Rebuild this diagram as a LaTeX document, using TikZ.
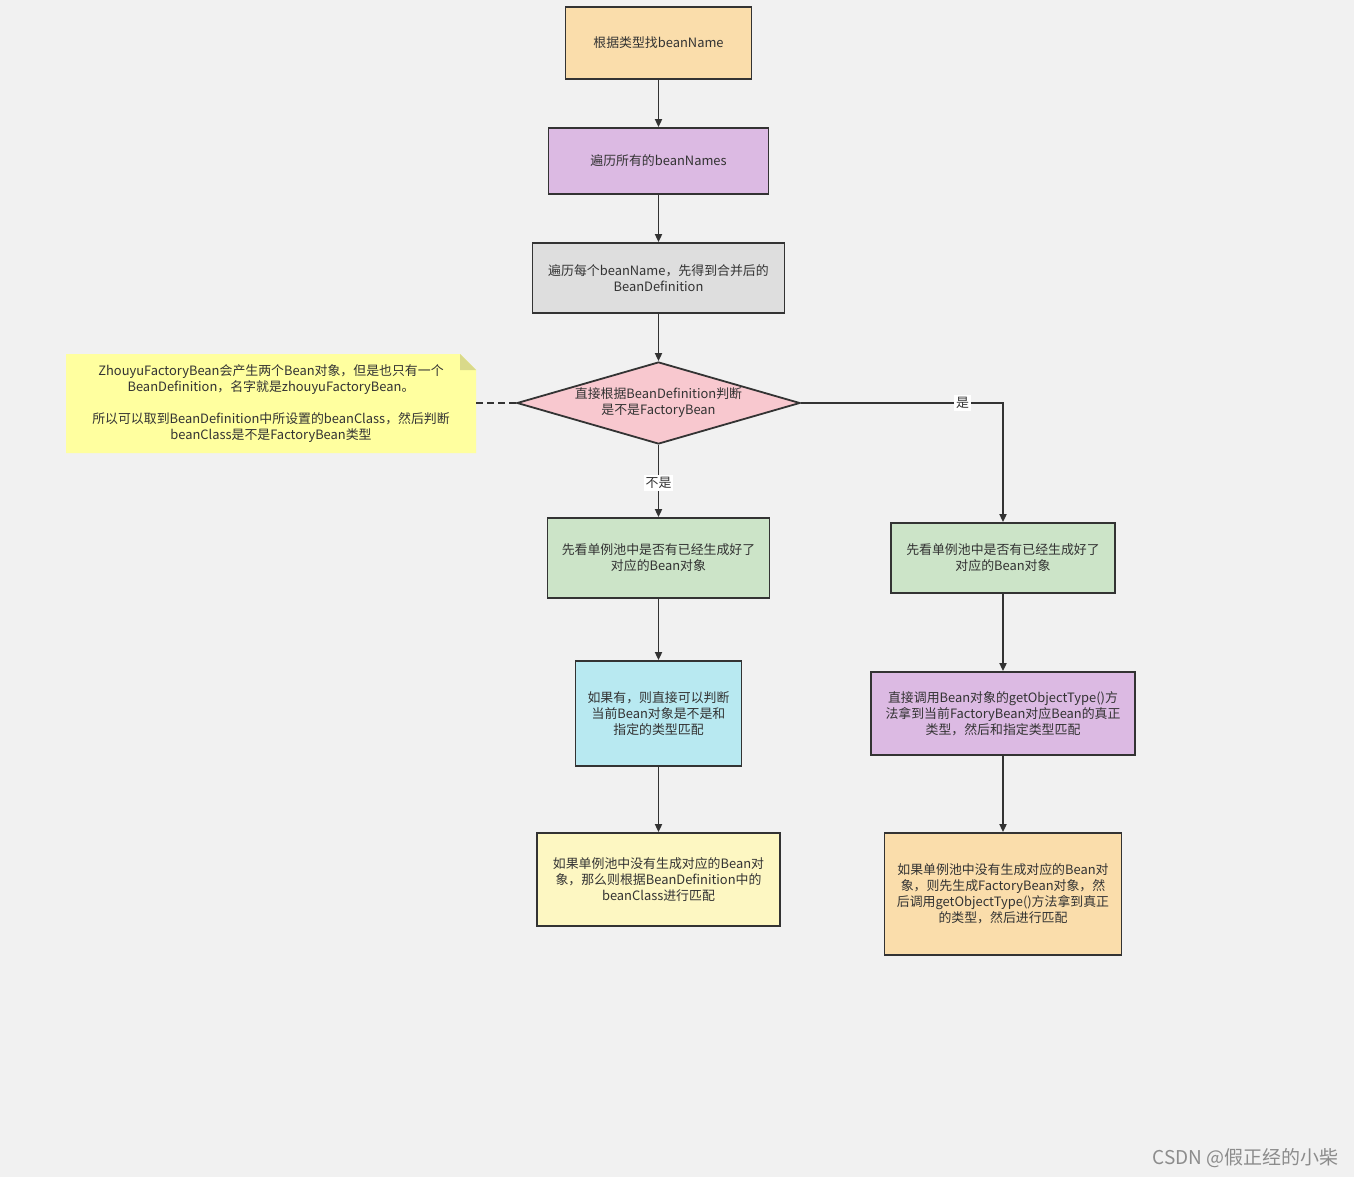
\documentclass[tikz,border=0pt]{standalone}
\usepackage{fontspec}
\setmainfont{Noto Sans CJK SC}
\newfontfamily\cjk{Noto Sans CJK SC}
\usetikzlibrary{shapes.geometric,arrows.meta}
\definecolor{bg}{HTML}{F1F1F1}
\definecolor{ln}{HTML}{333333}
\definecolor{corange}{HTML}{FADDAB}
\definecolor{cpurple}{HTML}{DCBAE3}
\definecolor{cgray}{HTML}{DEDEDE}
\definecolor{cpink}{HTML}{F8C8CF}
\definecolor{cgreen}{HTML}{CCE4C8}
\definecolor{ccyan}{HTML}{B8E9F1}
\definecolor{cyellow}{HTML}{FDF7C2}
\definecolor{cnote}{HTML}{FFFF9F}
\definecolor{cfold}{HTML}{D9D98A}
\begin{document}
\begin{tikzpicture}[x=1pt,y=-1pt,
  txt/.style={font=\cjk\fontsize{12.9}{16}\selectfont, text=ln, align=center, inner sep=0pt},
  box/.style={txt, draw=ln, line width=1.8pt, rectangle},
  arr/.style={draw=ln, line width=1.8pt, -{Triangle[length=8pt,width=7pt]}},
  lbl/.style={txt, fill=white, inner sep=2pt}]
\useasboundingbox[fill=bg] (0,0) rectangle (1354,1177);
% nodes
\node[box, fill=corange, minimum width=186pt, minimum height=72pt] (n1) at (658.5,43) {根据类型找beanName};
\node[box, fill=cpurple, minimum width=220pt, minimum height=66pt] (n2) at (658.5,161) {遍历所有的beanNames};
\node[box, fill=cgray, minimum width=252pt, minimum height=70pt] (n3) at (658.5,278) {遍历每个beanName，先得到合并后的\\BeanDefinition};
\node[txt, draw=ln, line width=1.8pt, diamond, aspect=3.45, fill=cpink, minimum width=283pt, minimum height=82pt] (d) at (658.5,403) {直接根据BeanDefinition判断\\是不是FactoryBean};
\node[box, fill=cgreen, minimum width=222pt, minimum height=80pt] (lg) at (658.5,558) {先看单例池中是否有已经生成好了\\对应的Bean对象};
\node[box, fill=cgreen, minimum width=224pt, minimum height=70pt] (rg) at (1003,558) {先看单例池中是否有已经生成好了\\对应的Bean对象};
\node[box, fill=ccyan, minimum width=166pt, minimum height=105pt] (cy) at (658.5,713.5) {如果有，则直接可以判断\\当前Bean对象是不是和\\指定的类型匹配};
\node[box, fill=cpurple, minimum width=264pt, minimum height=83pt] (rp) at (1003,713.5) {直接调用Bean对象的getObjectType()方\\法拿到当前FactoryBean对应Bean的真正\\类型，然后和指定类型匹配};
\node[box, fill=cyellow, minimum width=243pt, minimum height=93pt] (ly) at (658.5,879.5) {如果单例池中没有生成对应的Bean对\\象，那么则根据BeanDefinition中的\\beanClass进行匹配};
\node[box, fill=corange, minimum width=237pt, minimum height=122pt] (ro) at (1003,894) {如果单例池中没有生成对应的Bean对\\象，则先生成FactoryBean对象，然\\后调用getObjectType()方法拿到真正\\的类型，然后进行匹配};
% note
\fill[cnote] (66,354) -- (460,354) -- (476,370) -- (476,453) -- (66,453) -- cycle;
\fill[cfold] (460,354) -- (476,370) -- (460,370) -- cycle;
\node[txt, text width=400pt] (note) at (271,404) {ZhouyuFactoryBean会产生两个Bean对象，但是也只有一个\\BeanDefinition，名字就是zhouyuFactoryBean。\\[16pt]所以可以取到BeanDefinition中所设置的beanClass，然后判断\\beanClass是不是FactoryBean类型};
\coordinate (noteR) at (476,403);
% connectors
\draw[arr] (n1) -- (n2);
\draw[arr] (n2) -- (n3);
\draw[arr] (n3) -- (d);
\draw[arr] (d) -- node[lbl, pos=0.53] (l1) {不是} (lg);
\draw[arr] (d.east) -| node[lbl, pos=0.4] (l2) {是} (rg.north);
\draw[arr] (lg) -- (cy);
\draw[arr] (cy) -- (ly);
\draw[arr] (rg) -- (rp);
\draw[arr] (rp) -- (ro);
\draw[draw=ln, line width=1.8pt, dash pattern=on 7pt off 4pt] (noteR) -- (d.west);
% watermark
\node[font=\cjk\fontsize{19}{22}\selectfont, text=black!45, anchor=east, inner sep=0pt] (wm) at (1339,1158) {CSDN @假正经的小柴};
\end{tikzpicture}
\end{document}
